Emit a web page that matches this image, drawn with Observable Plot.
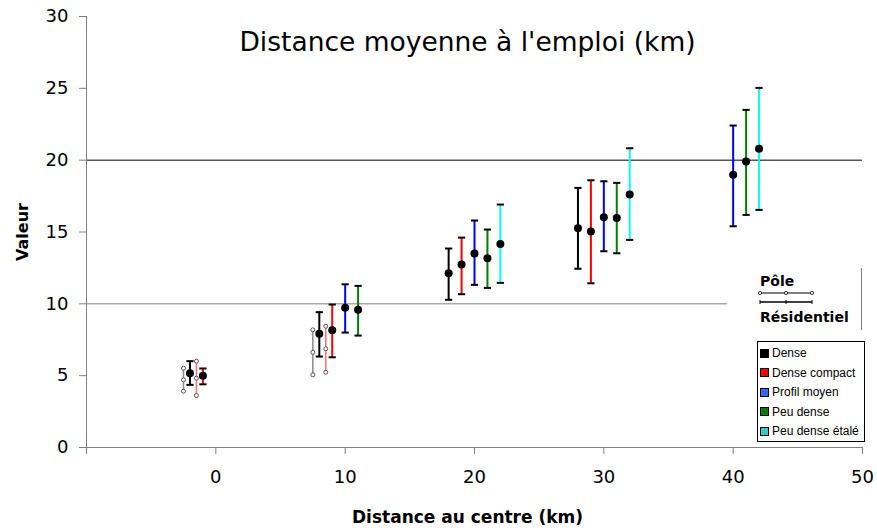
<!DOCTYPE html>
<html>
<head>
<meta charset="utf-8">
<script src="https://cdn.jsdelivr.net/npm/d3@7"></script>
<script src="https://cdn.jsdelivr.net/npm/@observablehq/plot@0.6"></script>
<style>
  body { margin: 0; background: white; }
  #wrap { position: relative; width: 877px; height: 531px; background: white; font-family: "Liberation Sans", Arial, sans-serif; }
  #wrap svg.plot { position: absolute; left: 0; top: 0; }
  #poleBox { position: absolute; left: 727px; top: 268px; width: 134px; height: 62px; background: white; border-right: 1px solid #808080; }
  #legend { position: absolute; left: 757px; top: 341px; width: 106px; height: 99px; background: white; border: 1px solid black; }
  .item { position: absolute; left: 2px; height: 14px; display: flex; align-items: center; font-size: 12px; color: black; white-space: nowrap; }
  .sw { width: 7px; height: 7px; border: 1px solid black; margin-right: 3px; }
</style>
</head>
<body>
<div id="wrap"></div>
<script>
// ---- data ----
const titleText = "Distance moyenne à l'emploi (km)";
const xLabel = "Distance au centre (km)";
const yLabel = "Valeur";
const categories = ["Dense", "Dense compact", "Profil moyen", "Peu dense", "Peu dense étalé"];
const catColors = ["#000000", "#ff0000", "#0000ff", "#008000", "#00ffff"];
const legendColors = ["#000000", "#ff0000", "#3366ff", "#008000", "#33cccc"];

// Résidentiel series
const resX    = [-2, -1, 8, 9, 10, 11, 18, 19, 20, 21, 22, 28, 29, 30, 31, 32, 40, 41, 42];
const resCat  = [0, 1, 0, 1, 2, 3, 0, 1, 2, 3, 4, 0, 1, 2, 3, 4, 2, 3, 4];
const resMin  = [4.36, 4.40, 6.33, 6.28, 8.00, 7.79, 10.28, 10.67, 11.32, 11.11, 11.46, 12.44, 11.43, 13.66, 13.52, 14.45, 15.40, 16.19, 16.54];
const resMean = [5.17, 4.99, 7.91, 8.16, 9.72, 9.58, 12.13, 12.73, 13.50, 13.17, 14.17, 15.26, 15.03, 16.03, 15.98, 17.61, 18.98, 19.90, 20.79];
const resMax  = [6.01, 5.50, 9.42, 9.95, 11.36, 11.25, 13.85, 14.61, 15.80, 15.17, 16.91, 18.07, 18.60, 18.53, 18.42, 20.83, 22.41, 23.50, 25.03];

// Pôle series
const poleX    = [-2.5, -1.5, 7.5, 8.5];
const poleCat  = [0, 1, 0, 1];
const poleMin  = [3.92, 3.62, 5.06, 5.24];
const poleMean = [4.71, 4.82, 6.63, 6.87];
const poleMax  = [5.52, 6.01, 8.19, 8.44];
const poleColors = ["#8a8a8a", "#ff7070"];

const xTicks = [-10, 0, 10, 20, 30, 40, 50];
const yTicks = [0, 5, 10, 15, 20, 25, 30];
const gridValues = [10, 20];
const gridColors = ["#808080", "#000000"];

// ---- tables ----
const res = resX.map((x, i) => ({x, cat: categories[resCat[i]], color: catColors[resCat[i]], min: resMin[i], mean: resMean[i], max: resMax[i]}));
const pole = poleX.map((x, i) => ({x, cat: categories[poleCat[i]], color: poleColors[poleCat[i]], min: poleMin[i], mean: poleMean[i], max: poleMax[i]}));

const capSymbol = { draw(ctx, size) { const w = 3.6; ctx.moveTo(-w, 0); ctx.lineTo(w, 0); } };
const dv = "'DejaVu Sans', Verdana, sans-serif";

const chart = Plot.plot({
  width: 877, height: 531,
  marginLeft: 86, marginRight: 15, marginTop: 16, marginBottom: 84,
  x: {domain: [-10, 50]},
  y: {domain: [0, 30]},
  style: {fontFamily: dv, background: "transparent", color: "black"},
  marks: [
    Plot.ruleY(gridValues, {y: d => d, stroke: (d, i) => gridColors[i], strokeWidth: 1}),
    Plot.ruleX([-10], {stroke: "#808080"}),
    Plot.ruleY([0], {stroke: "#808080"}),
    Plot.axisY({ticks: yTicks, tickSize: 7, tickPadding: 11, fontSize: 18, label: null, stroke: "#808080", fill: "black"}),
    Plot.axisX({ticks: xTicks, tickSize: 7, tickPadding: 16, fontSize: 18, label: null, stroke: "#808080", fill: "black",
                tickFormat: d => d === -10 ? "" : String(d)}),
    // Pôle
    Plot.ruleX(pole, {x: "x", y1: "min", y2: "max", stroke: "color", strokeWidth: 1.5}),
    Plot.dot(pole, {x: "x", y: "min", r: 2, fill: "white", stroke: "#555", strokeWidth: 1}),
    Plot.dot(pole, {x: "x", y: "mean", r: 2, fill: "white", stroke: "#555", strokeWidth: 1}),
    Plot.dot(pole, {x: "x", y: "max", r: 2, fill: "white", stroke: "#555", strokeWidth: 1}),
    // Résidentiel
    Plot.ruleX(res, {x: "x", y1: "min", y2: "max", stroke: "color", strokeWidth: 2}),
    Plot.dot(res, {x: "x", y: "min", symbol: capSymbol, stroke: "black", strokeWidth: 2, r: 4}),
    Plot.dot(res, {x: "x", y: "max", symbol: capSymbol, stroke: "black", strokeWidth: 2, r: 4}),
    Plot.dot(res, {x: "x", y: "mean", r: 4, fill: "black", stroke: "none"}),
    // texts
    Plot.text([titleText], {text: d => d, frameAnchor: "top", lineAnchor: "middle", textAnchor: "middle", dy: 26, dx: -7, fontSize: 26.5, fill: "black"}),
    Plot.text([xLabel], {text: d => d, frameAnchor: "bottom", lineAnchor: "middle", textAnchor: "middle", dy: 70, dx: -7, fontSize: 17, fontWeight: "bold", fill: "black"}),
    Plot.text([yLabel], {text: d => d, frameAnchor: "left", lineAnchor: "middle", textAnchor: "middle", dx: -64, rotate: -90, fontSize: 16, fontWeight: "bold", fill: "black"})
  ]
});
chart.classList.add("plot");
const wrap = document.getElementById("wrap");
wrap.appendChild(chart);

// Pôle / Résidentiel key
const poleBox = document.createElement("div");
poleBox.id = "poleBox";
poleBox.innerHTML = `
<svg width="134" height="62" style="position:absolute;left:0;top:0">
  <text x="33" y="18" font-size="14" font-weight="bold" font-family="${dv.replace(/"/g, "")}">Pôle</text>
  <line x1="33" x2="85" y1="25" y2="25" stroke="black" stroke-width="1"/>
  <circle cx="33" cy="25" r="1.6" fill="white" stroke="black" stroke-width="0.8"/>
  <circle cx="59" cy="25" r="1.6" fill="white" stroke="black" stroke-width="0.8"/>
  <circle cx="85" cy="25" r="1.6" fill="white" stroke="black" stroke-width="0.8"/>
  <line x1="33" x2="85" y1="34" y2="34" stroke="black" stroke-width="1.5"/>
  <line x1="33" x2="33" y1="32" y2="36" stroke="black" stroke-width="1"/>
  <line x1="59" x2="59" y1="32" y2="36" stroke="black" stroke-width="1"/>
  <line x1="85" x2="85" y1="32" y2="36" stroke="black" stroke-width="1"/>
  <text x="33" y="54" font-size="14" font-weight="bold" font-family="${dv.replace(/"/g, "")}">Résidentiel</text>
</svg>`;
wrap.appendChild(poleBox);

// category legend
const legend = document.createElement("div");
legend.id = "legend";
categories.forEach((c, i) => {
  const it = document.createElement("div");
  it.className = "item";
  it.style.top = (4 + i * 19.5) + "px";
  it.innerHTML = `<div class="sw" style="background:${legendColors[i]}"></div><span>${c}</span>`;
  legend.appendChild(it);
});
wrap.appendChild(legend);
</script>
</body>
</html>
